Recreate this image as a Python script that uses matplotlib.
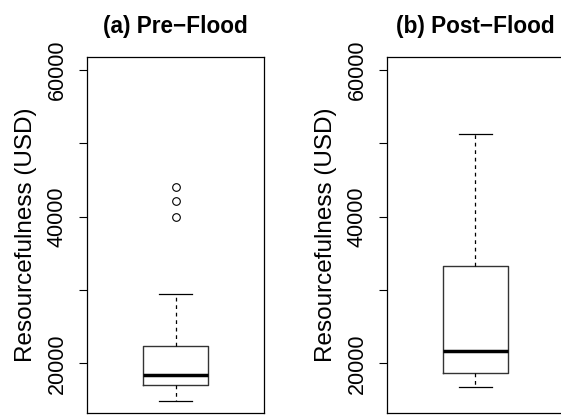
import matplotlib
matplotlib.use("Agg")
import matplotlib.pyplot as plt

plt.rcParams["font.family"] = ["Liberation Sans", "DejaVu Sans"]

# box statistics
titles = ["(a) Pre\u2212Flood", "(b) Post\u2212Flood"]
whis_lo = [14860, 16810]
q1 = [17050, 18720]
med = [18410, 21680]
q3 = [22400, 33320]
whis_hi = [29450, 51300]
fliers = [[39950, 42180, 44000], []]
yticks = [20000, 30000, 40000, 50000, 60000]
ylabels = ["20000", "", "40000", "", "60000"]

fig = plt.figure(figsize=(5.61, 4.15), dpi=100)
lefts = [0.1551, 0.6898]

for i in range(2):
    ax = fig.add_axes([lefts[i], 0.004, 0.3155, 0.8594])
    stats = [dict(med=med[i], q1=q1[i], q3=q3[i], whislo=whis_lo[i],
                  whishi=whis_hi[i], fliers=fliers[i])]
    ax.bxp(stats, positions=[1], widths=0.40, capwidths=0.20,
           boxprops=dict(color="#333333", linewidth=1),
           medianprops=dict(color="black", linewidth=2.5, solid_capstyle="butt"),
           whiskerprops=dict(color="black", linewidth=0.9, linestyle=(0, (3, 3))),
           capprops=dict(color="black", linewidth=0.9),
           flierprops=dict(marker="o", markerfacecolor="none",
                           markeredgecolor="black", markersize=5.5, markeredgewidth=0.8))
    ax.set_xlim(0.46, 1.54)
    ax.set_ylim(13182, 61818)
    ax.set_xticks([])
    ax.set_yticks(yticks)
    ax.set_yticklabels(ylabels, rotation=90, va="center", fontsize=15.5)
    ax.tick_params(axis="y", length=6, width=0.8, pad=8)
    ax.set_ylabel("Resourcefulness (USD)", fontsize=17.5, labelpad=7)
    ax.set_title(titles[i], fontsize=16.3, fontweight="bold", pad=17)
    for sp in ax.spines.values():
        sp.set_linewidth(0.9)

fig.savefig("out.png", dpi=100)
